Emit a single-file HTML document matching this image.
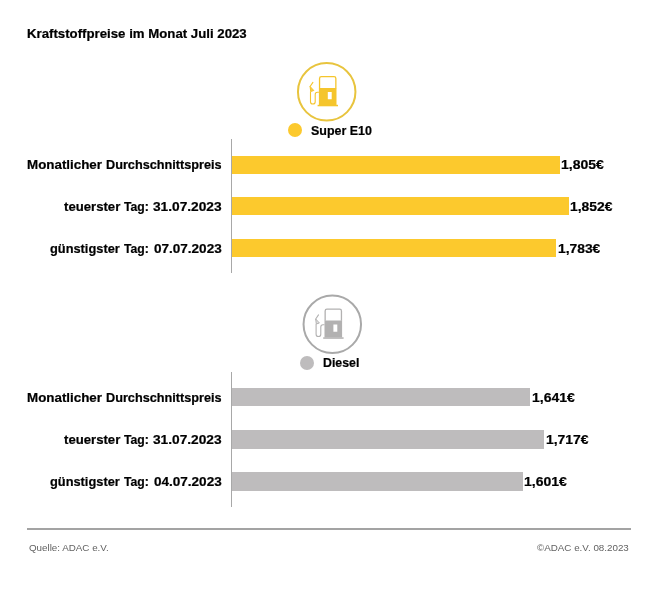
<!DOCTYPE html>
<html><head><meta charset="utf-8">
<style>
html,body{margin:0;padding:0;background:#fff;}
body{width:668px;height:591px;position:relative;overflow:hidden;font-family:"Liberation Sans",sans-serif;color:#000;}
.t{position:absolute;white-space:nowrap;font-weight:bold;font-size:12px;line-height:12px;will-change:transform;-webkit-text-stroke:0.2px #000;transform-origin:0 50%;}
.bar{position:absolute;left:232px;}
.y{background:#fcc92d;}
.g{background:#bebcbd;}
.axis{position:absolute;left:231px;width:1px;background:#a8a8a8;}
.dot{position:absolute;width:14px;height:14px;border-radius:50%;}
.foot{position:absolute;white-space:nowrap;font-size:9.8px;line-height:10px;color:#626262;will-change:transform;transform-origin:0 50%;}
svg{position:absolute;left:0;top:0;overflow:visible;}
</style></head><body>

<div class="t" style="left:27.00px;top:28px;transform:scaleX(1.1020);">Kraftstoffpreise im Monat Juli 2023</div>
<svg width="668" height="591">
  <g transform="translate(326.7,91.8)">
    <circle cx="0" cy="0" r="28.75" fill="none" stroke="#e8c43e" stroke-width="2"/>
    <path d="M -7.15 -3.50 V -13.4 Q -7.15 -15.2 -5.35 -15.2 H 7.35 Q 9.15 -15.2 9.15 -13.4 V -3.50" fill="none" stroke="#f5c52c" stroke-width="1.3"/>
    <path d="M -7.8 -3.9 H 9.8 V 13.3 H -7.8 Z M 1.1 0.2 V 7.4 H 5.0 V 0.2 Z" fill="#f5c52c" fill-rule="evenodd"/>
    <rect x="-9.1" y="13.0" width="20.4" height="1.5" fill="#f5c52c"/>
    <path d="M -7.8 0.5 H -9.3 Q -11.5 0.5 -11.5 2.7 V 9.85 A 2.35 2.35 0 0 1 -16.2 9.85 V -0.3" fill="none" stroke="#f5c52c" stroke-width="1.1"/>
    <path d="M -16.6 -5.3 L -13.8 -9.4" fill="none" stroke="#f5c52c" stroke-width="1.1" stroke-linecap="round"/>
    <path d="M -16.6 -5.3 L -12.9 -1.3 L -16.0 -0.3 Z" fill="#f5c52c" fill-opacity="0.85" stroke="#f5c52c" stroke-width="1" stroke-linejoin="round"/>
  </g>
  <g transform="translate(332.3,324.3)">
    <circle cx="0" cy="0" r="28.75" fill="none" stroke="#a9a9a9" stroke-width="2"/>
    <path d="M -7.15 -3.50 V -13.4 Q -7.15 -15.2 -5.35 -15.2 H 7.35 Q 9.15 -15.2 9.15 -13.4 V -3.50" fill="none" stroke="#b2b1b1" stroke-width="1.3"/>
    <path d="M -7.8 -3.9 H 9.8 V 13.3 H -7.8 Z M 1.1 0.2 V 7.4 H 5.0 V 0.2 Z" fill="#b2b1b1" fill-rule="evenodd"/>
    <rect x="-9.1" y="13.0" width="20.4" height="1.5" fill="#b2b1b1"/>
    <path d="M -7.8 0.5 H -9.3 Q -11.5 0.5 -11.5 2.7 V 9.85 A 2.35 2.35 0 0 1 -16.2 9.85 V -0.3" fill="none" stroke="#b2b1b1" stroke-width="1.1"/>
    <path d="M -16.6 -5.3 L -13.8 -9.4" fill="none" stroke="#b2b1b1" stroke-width="1.1" stroke-linecap="round"/>
    <path d="M -16.6 -5.3 L -12.9 -1.3 L -16.0 -0.3 Z" fill="#b2b1b1" fill-opacity="0.4" stroke="#b2b1b1" stroke-width="1" stroke-linejoin="round"/>
  </g>
</svg>
<div class="dot y" style="left:288.2px;top:123.3px;"></div>
<div class="t" style="left:311.06px;top:125px;transform:scaleX(1.0368);">Super E10</div>
<div class="axis" style="top:139.2px;height:134.3px;"></div>
<div class="bar y" style="top:156px;height:18px;width:327.9px;"></div>
<div class="bar y" style="top:197px;height:18px;width:336.7px;"></div>
<div class="bar y" style="top:239px;height:18px;width:323.8px;"></div>
<div class="t" style="left:27.29px;top:159px;transform:scaleX(1.1136);">Monatlicher</div>
<div class="t" style="left:106.14px;top:159px;transform:scaleX(1.0565);">Durchschnittspreis</div>
<div class="t" style="left:63.70px;top:201px;transform:scaleX(1.0961);">teuerster</div>
<div class="t" style="left:124.20px;top:201px;transform:scaleX(1.0167);">Tag:</div>
<div class="t" style="left:152.56px;top:201px;transform:scaleX(1.1424);">31.07.2023</div>
<div class="t" style="left:50.20px;top:243px;transform:scaleX(1.0677);">günstigster</div>
<div class="t" style="left:124.20px;top:243px;transform:scaleX(1.0167);">Tag:</div>
<div class="t" style="left:153.50px;top:243px;transform:scaleX(1.1267);">07.07.2023</div>
<div class="t" style="left:561.23px;top:159px;transform:scaleX(1.1657);">1,805€</div>
<div class="t" style="left:570.35px;top:201px;transform:scaleX(1.1543);">1,852€</div>
<div class="t" style="left:558.05px;top:243px;transform:scaleX(1.1514);">1,783€</div>
<div class="dot g" style="left:299.8px;top:355.9px;"></div>
<div class="t" style="left:323.07px;top:357px;transform:scaleX(1.0294);">Diesel</div>
<div class="axis" style="top:371.5px;height:135.6px;"></div>
<div class="bar g" style="top:388px;height:18px;width:297.6px;"></div>
<div class="bar g" style="top:430px;height:18.5px;width:311.9px;"></div>
<div class="bar g" style="top:472px;height:18.6px;width:290.6px;"></div>
<div class="t" style="left:27.29px;top:392px;transform:scaleX(1.1136);">Monatlicher</div>
<div class="t" style="left:106.14px;top:392px;transform:scaleX(1.0565);">Durchschnittspreis</div>
<div class="t" style="left:63.70px;top:434px;transform:scaleX(1.0961);">teuerster</div>
<div class="t" style="left:124.20px;top:434px;transform:scaleX(1.0167);">Tag:</div>
<div class="t" style="left:152.56px;top:434px;transform:scaleX(1.1424);">31.07.2023</div>
<div class="t" style="left:50.20px;top:476px;transform:scaleX(1.0677);">günstigster</div>
<div class="t" style="left:124.20px;top:476px;transform:scaleX(1.0167);">Tag:</div>
<div class="t" style="left:153.50px;top:476px;transform:scaleX(1.1267);">04.07.2023</div>
<div class="t" style="left:531.63px;top:392px;transform:scaleX(1.1657);">1,641€</div>
<div class="t" style="left:546.04px;top:434px;transform:scaleX(1.1600);">1,717€</div>
<div class="t" style="left:524.23px;top:476px;transform:scaleX(1.1657);">1,601€</div>
<div style="position:absolute;left:27px;top:528px;width:604px;height:2px;background:#a3a3a3;"></div>
<div class="foot" style="left:28.9px;top:542.6px;">Quelle: ADAC e.V.</div>
<div class="foot" style="left:537.4px;top:542.6px;">©ADAC e.V. 08.2023</div>
</body></html>
